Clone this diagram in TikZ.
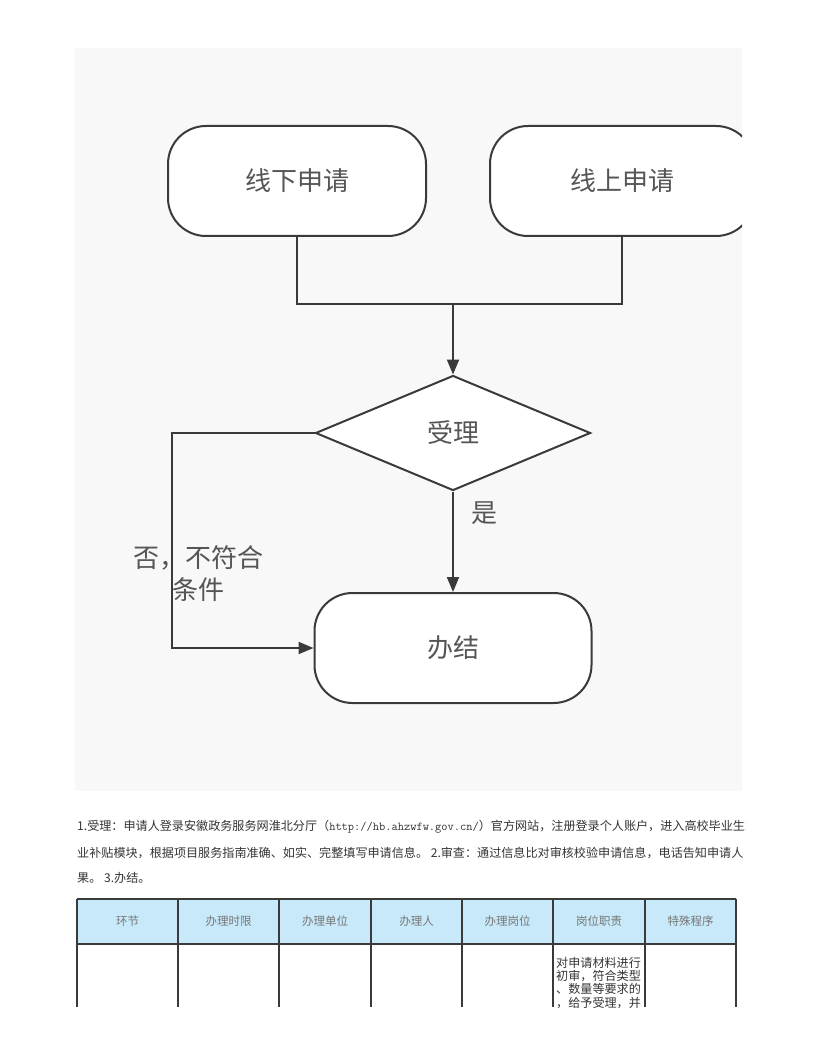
\documentclass[tikz,border=0pt]{standalone}
\usepackage{fontspec}
\newfontfamily\cjk{Noto Sans CJK SC}
\usetikzlibrary{shapes.geometric,arrows.meta}
\definecolor{panelgray}{HTML}{F8F8F8}
\definecolor{inkgray}{HTML}{3A3A3A}
\definecolor{textgray}{HTML}{555555}
\definecolor{bodytext}{HTML}{333333}
\definecolor{headblue}{HTML}{C7E9F9}
\begin{document}
\begin{tikzpicture}[x=1pt,y=-1pt,
  term/.style={draw=inkgray, line width=2pt, fill=white, rounded corners=38pt, minimum width=258pt, minimum height=110pt, text=textgray, font=\cjk\fontsize{26}{30}\selectfont},
  decision/.style={diamond, draw=inkgray, line width=2pt, fill=white, aspect=2.4, inner sep=0pt, minimum width=275pt, minimum height=115pt, text=textgray, font=\cjk\fontsize{26}{30}\selectfont},
  flowtxt/.style={text=textgray, font=\cjk\fontsize{26}{32}\selectfont},
  link/.style={draw=inkgray, line width=2pt},
  arr/.style={link, -{Triangle[length=15pt,width=12pt]}},
  tabline/.style={draw=inkgray, line width=1.3pt},
  headcell/.style={text=textgray!80, font=\cjk\fontsize{11.5}{14}\selectfont},
  celltxt/.style={anchor=west, inner sep=0pt, text=bodytext, font=\cjk\fontsize{12.1}{13.3}\selectfont},
  paratxt/.style={anchor=west, inner sep=0pt, text=bodytext, font=\cjk\fontsize{12.1}{14}\selectfont}]
\useasboundingbox (0,0) rectangle (816,1056);
\fill[panelgray] (75,48) rectangle (742,791);
\begin{scope}
\clip (75,48) rectangle (742,791);
\node[term] (offline) at (297,181) {线下申请};
\node[term, minimum width=264pt] (online) at (622,181) {线上申请};
\coordinate (join) at (453,304);
\node[decision] (accept) at (453,433) {受理};
\node[term, minimum width=277pt] (done) at (453,648) {办结};
\coordinate (noleg) at (172,540);
\draw[link] (offline.south) |- (join) -| (online.south);
\draw[arr] (join) -- (accept.north);
\draw[arr] (accept.south) -- (done.north);
\draw[arr] (accept.west) -| (noleg) |- (done.west);
\node[flowtxt] (yes) at (484,513) {是};
\node[flowtxt, align=center] (no) at (198,574) {否，不符合\\条件};
\end{scope}
\begin{scope}
\clip (70,810) rectangle (745,895);
\node[paratxt] (line1) at (77,827) {1.受理：申请人登录安徽政务服务网淮北分厅（{\ttfamily http://hb.ahzwfw.gov.cn/}）官方网站，注册登录个人账户，进入高校毕业生求};
\node[paratxt] (line2) at (77,852.5) {业补贴模块，根据项目服务指南准确、如实、完整填写申请信息。 2.审查：通过信息比对审核校验申请信息，电话告知申请人};
\node[paratxt] (line3) at (77,878) {果。 3.办结。};
\end{scope}
\fill[headblue] (77,899) rectangle (736,944);
\foreach \x in {77,178,279,371,462,553,645,736}
  \draw[tabline] (\x,899) -- (\x,1007);
\draw[tabline] (77,899) -- (736,899) (77,944) -- (736,944);
\foreach \a/\b/\t [count=\i] in {77/178/环节,178/279/办理时限,279/371/办理单位,371/462/办理人,462/553/办理岗位,553/645/岗位职责,645/736/特殊程序}
  \node[headcell] (head\i) at ({(\a+\b)/2},921.5) {\t};
\begin{scope}
\clip (553,944) rectangle (645,1007);
\foreach \t [count=\i] in {对申请材料进行,初审，符合类型,、数量等要求的,，给予受理，并}
  \node[celltxt] (duty\i) at (556,{949.4+13.3*\i}) {\t};
\end{scope}
\end{tikzpicture}
\end{document}
